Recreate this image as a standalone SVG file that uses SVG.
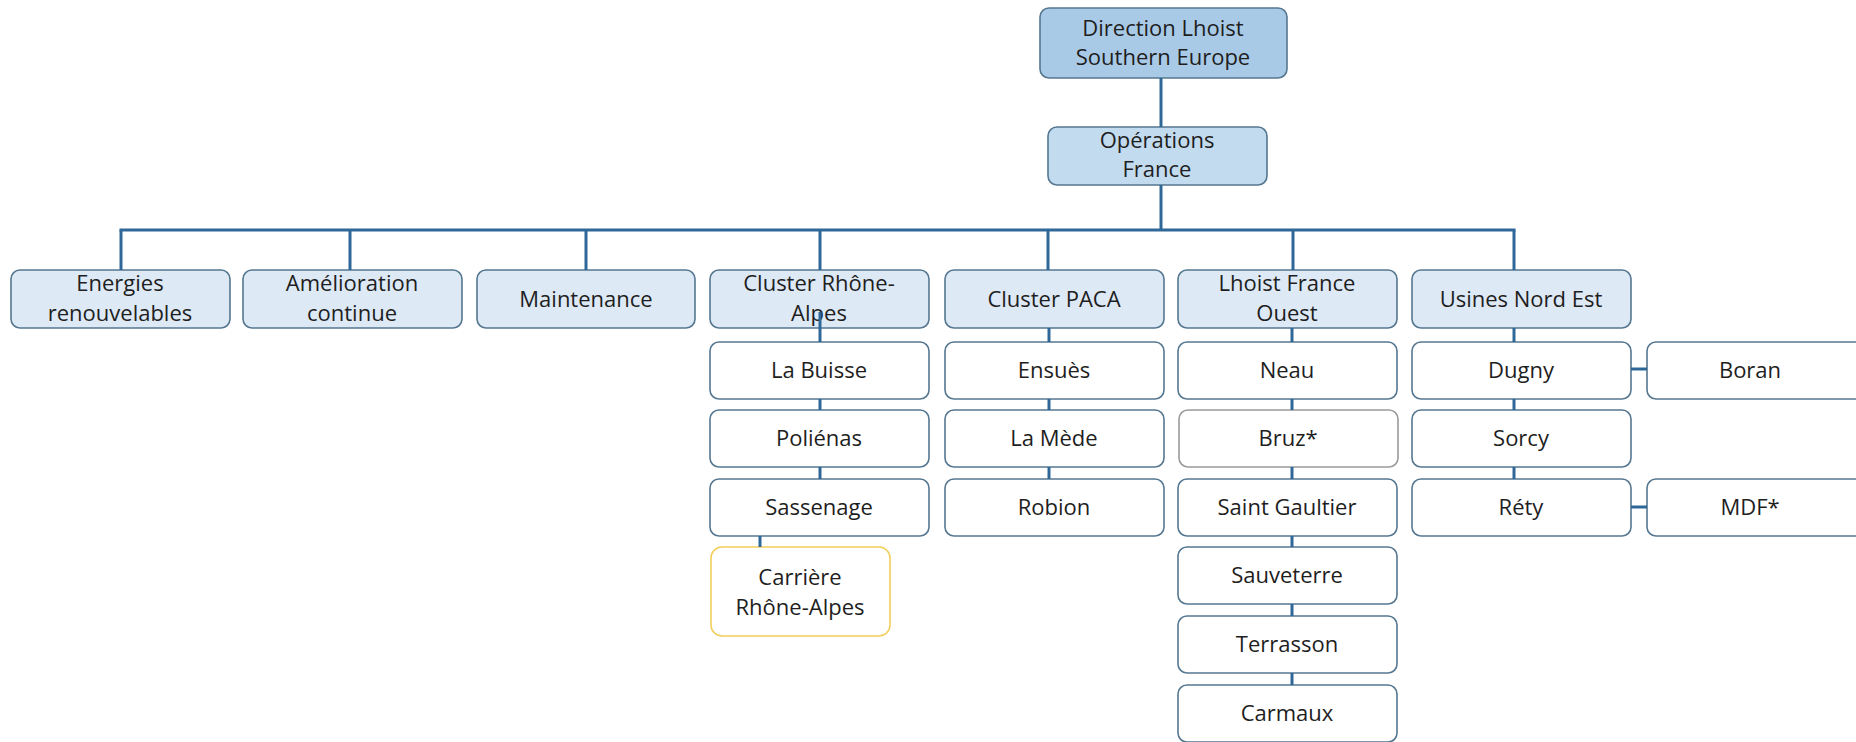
<svg xmlns="http://www.w3.org/2000/svg" width="1856" height="742" viewBox="0 0 1856 742">
<style>
.box{stroke:#557790;stroke-width:1.6}
.top{fill:#a9cae6}
.ops{fill:#c3dbef}
.l2{fill:#dde9f5}
.ch{fill:#ffffff}
.gray{stroke:#9a9a9a}
.yel{stroke:#f2cf5b}
.c line{stroke:#2f6898;stroke-width:3}
text{font-family:"Open Sans","Liberation Sans",sans-serif;font-size:22px;fill:#1e1e1e;text-anchor:middle}
</style>
<rect width="1856" height="742" fill="#ffffff"/>
<g id="n-direction"><rect class="box top" x="1040" y="8" width="247" height="70" rx="9"/><text x="1163" y="36">Direction Lhoist</text><text x="1163" y="65">Southern Europe</text></g>
<g id="n-operations"><rect class="box ops" x="1048" y="127" width="219" height="58" rx="9"/><text x="1157" y="148">Opérations</text><text x="1157" y="177">France</text></g>
<g id="n-energies"><rect class="box l2" x="11" y="270" width="219" height="58" rx="9"/><text x="120" y="291">Energies</text><text x="120" y="321">renouvelables</text></g>
<g id="n-amelioration"><rect class="box l2" x="243" y="270" width="219" height="58" rx="9"/><text x="352" y="291">Amélioration</text><text x="352" y="321">continue</text></g>
<g id="n-maintenance"><rect class="box l2" x="477" y="270" width="218" height="58" rx="9"/><text x="586" y="307">Maintenance</text></g>
<g id="n-cluster-ra"><rect class="box l2" x="710" y="270" width="219" height="58" rx="9"/><text x="819" y="291">Cluster Rhône-</text><text x="819" y="321">Alpes</text></g>
<g id="n-cluster-paca"><rect class="box l2" x="945" y="270" width="219" height="58" rx="9"/><text x="1054" y="307">Cluster PACA</text></g>
<g id="n-lfo"><rect class="box l2" x="1178" y="270" width="219" height="58" rx="9"/><text x="1287" y="291">Lhoist France</text><text x="1287" y="321">Ouest</text></g>
<g id="n-une"><rect class="box l2" x="1412" y="270" width="219" height="58" rx="9"/><text x="1521" y="307">Usines Nord Est</text></g>
<g id="n-labuisse"><rect class="box ch" x="710" y="342" width="219" height="57" rx="9"/><text x="819" y="378">La Buisse</text></g>
<g id="n-polienas"><rect class="box ch" x="710" y="410" width="219" height="57" rx="9"/><text x="819" y="446">Poliénas</text></g>
<g id="n-sassenage"><rect class="box ch" x="710" y="479" width="219" height="57" rx="9"/><text x="819" y="515">Sassenage</text></g>
<g id="n-carriere"><rect class="box ch yel" x="711" y="547" width="179" height="89" rx="11"/><text x="800" y="585">Carrière</text><text x="800" y="615">Rhône-Alpes</text></g>
<g id="n-ensues"><rect class="box ch" x="945" y="342" width="219" height="57" rx="9"/><text x="1054" y="378">Ensuès</text></g>
<g id="n-lamede"><rect class="box ch" x="945" y="410" width="219" height="57" rx="9"/><text x="1054" y="446">La Mède</text></g>
<g id="n-robion"><rect class="box ch" x="945" y="479" width="219" height="57" rx="9"/><text x="1054" y="515">Robion</text></g>
<g id="n-neau"><rect class="box ch" x="1178" y="342" width="219" height="57" rx="9"/><text x="1287" y="378">Neau</text></g>
<g id="n-bruz"><rect class="box ch gray" x="1179" y="410" width="219" height="57" rx="9"/><text x="1288" y="446">Bruz*</text></g>
<g id="n-saintgaultier"><rect class="box ch" x="1178" y="479" width="219" height="57" rx="9"/><text x="1287" y="515">Saint Gaultier</text></g>
<g id="n-sauveterre"><rect class="box ch" x="1178" y="547" width="219" height="57" rx="9"/><text x="1287" y="583">Sauveterre</text></g>
<g id="n-terrasson"><rect class="box ch" x="1178" y="616" width="219" height="57" rx="9"/><text x="1287" y="652">Terrasson</text></g>
<g id="n-carmaux"><rect class="box ch" x="1178" y="685" width="219" height="57" rx="9"/><text x="1287" y="721">Carmaux</text></g>
<g id="n-dugny"><rect class="box ch" x="1412" y="342" width="219" height="57" rx="9"/><text x="1521" y="378">Dugny</text></g>
<g id="n-sorcy"><rect class="box ch" x="1412" y="410" width="219" height="57" rx="9"/><text x="1521" y="446">Sorcy</text></g>
<g id="n-rety"><rect class="box ch" x="1412" y="479" width="219" height="57" rx="9"/><text x="1521" y="515">Réty</text></g>
<g id="n-boran"><rect class="box ch" x="1647" y="342" width="219" height="57" rx="9"/><text x="1750" y="378">Boran</text></g>
<g id="n-mdf"><rect class="box ch" x="1647" y="479" width="219" height="57" rx="9"/><text x="1750" y="515">MDF*</text></g>
<g id="connectors" class="c">
<line x1="1161" y1="78" x2="1161" y2="127"/>
<line x1="1161" y1="185" x2="1161" y2="231"/>
<line x1="119.5" y1="230" x2="1515.5" y2="230"/>
<line x1="121" y1="230" x2="121" y2="270"/>
<line x1="350" y1="230" x2="350" y2="270"/>
<line x1="586" y1="230" x2="586" y2="270"/>
<line x1="820" y1="230" x2="820" y2="270"/>
<line x1="1048" y1="230" x2="1048" y2="270"/>
<line x1="1293" y1="230" x2="1293" y2="270"/>
<line x1="1514" y1="230" x2="1514" y2="270"/>
<line x1="820" y1="312" x2="820" y2="342"/>
<line x1="820" y1="399" x2="820" y2="410"/>
<line x1="820" y1="467" x2="820" y2="479"/>
<line x1="760" y1="536" x2="760" y2="547"/>
<line x1="1049" y1="328" x2="1049" y2="342"/>
<line x1="1049" y1="399" x2="1049" y2="410"/>
<line x1="1049" y1="467" x2="1049" y2="479"/>
<line x1="1292" y1="328" x2="1292" y2="342"/>
<line x1="1292" y1="399" x2="1292" y2="410"/>
<line x1="1292" y1="467" x2="1292" y2="479"/>
<line x1="1292" y1="536" x2="1292" y2="547"/>
<line x1="1292" y1="604" x2="1292" y2="616"/>
<line x1="1292" y1="673" x2="1292" y2="685"/>
<line x1="1514" y1="328" x2="1514" y2="342"/>
<line x1="1514" y1="399" x2="1514" y2="410"/>
<line x1="1514" y1="467" x2="1514" y2="479"/>
<line x1="1631" y1="369" x2="1647" y2="369"/>
<line x1="1631" y1="507" x2="1647" y2="507"/>
</g>
</svg>
